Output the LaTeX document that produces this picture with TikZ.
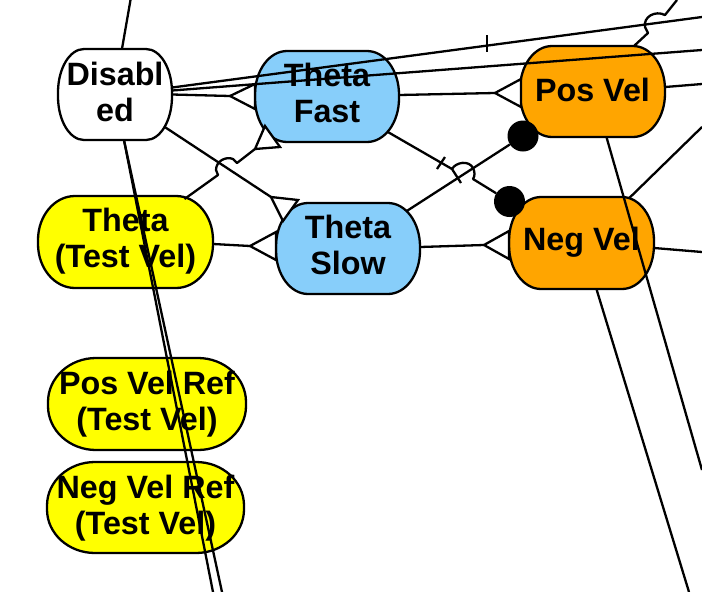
\documentclass[tikz,border=0pt]{standalone}
\usepackage{fontspec}
\setmainfont{Liberation Sans}
\usetikzlibrary{calc}
\definecolor{sblue}{HTML}{87CEFA}
\definecolor{sorange}{HTML}{FFA500}
\definecolor{syellow}{HTML}{FFFF00}
\tikzset{
  stateline/.style={draw=black, line width=2.3pt},
  stateanchor/.style={inner sep=0pt},
  statetext/.style={align=center, inner sep=0pt,
    font=\fontsize{32.3}{36}\selectfont\bfseries},
  wire/.style={black, line width=2.3pt, line join=round},
  forkhead/.style={draw=black, fill=white, line width=2.3pt, line join=miter},
  ballhead/.style={circle, fill=black, minimum size=31pt, inner sep=0pt}
}
%% name, centre x, centre y, width, height, corner x radius, colour, text shift, text
\newcommand{\statebox}[9]{%
  \draw[stateline, fill=#7] ({#2-#4/2+#6},{#3-#5/2}) -- ({#2+#4/2-#6},{#3-#5/2})
    arc[start angle=-90, end angle=0, x radius=#6, y radius={#5/2-2}]
    -- ({#2+#4/2},{#3+2})
    arc[start angle=0, end angle=90, x radius=#6, y radius={#5/2-2}]
    -- ({#2-#4/2+#6},{#3+#5/2})
    arc[start angle=90, end angle=180, x radius=#6, y radius={#5/2-2}]
    -- ({#2-#4/2},{#3-2})
    arc[start angle=180, end angle=270, x radius=#6, y radius={#5/2-2}]
    -- cycle;
  \node[stateanchor, minimum width=#4pt, minimum height=#5pt] (#1) at (#2,#3) {};
  \node[statetext] (#1text) at ({#2},{#3+#8}) {#9};
}
\begin{document}
\begin{tikzpicture}[x=1pt, y=-1pt]
  \useasboundingbox (0,0) rectangle (702,592);

  %% Mode states
  \statebox{disabled}{115}{94.5}{114}{91}{26}{white}{-3}{Disabl\\ed}
  \statebox{thetafast}{327}{96.5}{144}{91}{32}{sblue}{-4}{Theta\\Fast}
  \statebox{thetaslow}{348}{248.5}{144}{91}{32}{sblue}{-3.5}{Theta\\Slow}
  \statebox{posvel}{592.5}{91.5}{145}{91}{32}{sorange}{-2}{Pos Vel}
  \statebox{negvel}{581.5}{243}{145}{92}{32}{sorange}{-1}{Neg Vel}

  %% Test inputs
  \statebox{thetatest}{125.5}{242}{175}{92}{37}{syellow}{-0.5}{Theta\\(Test Vel)}
  \statebox{posref}{147}{404}{198}{92}{48}{syellow}{0.5}{Pos Vel Ref\\(Test Vel)}
  \statebox{negref}{145.5}{507.5}{197}{91}{48}{syellow}{1}{Neg Vel Ref\\(Test Vel)}

  %% Fork apexes and heads
  \coordinate (forkfast) at (230,96);
  \coordinate (forkfasttest) at (255,149);
  \coordinate (forkslow) at (250,246);
  \coordinate (forkslowdis) at (271,197);
  \coordinate (forkpos) at (495,93);
  \coordinate (forkneg) at (484,245);
  \node[ballhead] (ballpos) at (523,136) {};
  \node[ballhead] (ballneg) at (509.5,201.5) {};

  %% Free ends at the picture border
  \coordinate (endtop) at (130.5,0);
  \coordinate (endupper) at (702,17);
  \coordinate (endmid) at (702,50);
  \coordinate (enddisa) at (213,592);
  \coordinate (enddisb) at (222,592);
  \coordinate (endhop) at (677,0);
  \coordinate (endposr) at (702,84);
  \coordinate (endposd) at (702,470);
  \coordinate (endnegr) at (702,252);
  \coordinate (endnegu) at (702,127);
  \coordinate (endnegd) at (689,592);

  %% Connectors from Disabled
  \draw[wire] ([xshift=7pt]disabled.north) -- (endtop);
  \draw[wire] ([yshift=7pt]disabled.east) -- (endupper);
  \draw[wire] ([yshift=4pt]disabled.east) -- (endmid);
  \draw[wire] (disabled.east) -- (forkfast);
  \draw[wire] ([shift={(49,32)}]disabled.center) -- (forkslowdis);
  \draw[wire] ([xshift=9pt]disabled.south) -- (enddisa);
  \draw[wire] ([xshift=9pt]disabled.south) -- (enddisb);
  \draw[wire] (487,35) -- (487,52);

  %% Connectors from the other states
  \draw[wire] ([shift={(59,-43)}]thetatest.center) -- (218,175)
    -- (216,170) .. controls (216,161) and (226,156) .. (233,159) -- (237,163) -- (forkfasttest);
  \draw[wire] ([yshift=-2pt]thetatest.east) -- (forkslow);
  \draw[wire] ([yshift=1.5pt]thetafast.east) -- (forkpos);
  \draw[wire] ([shift={(60,35)}]thetafast.center) -- (452,169)
    .. controls (456,162) and (469,160) .. (473,168) .. controls (475,172) and (475,176) .. (473,179)
    -- (ballneg);
  \draw[wire] (437,169) -- (445,157);
  \draw[wire] (452,169) -- (461,183);
  \draw[wire] ([shift={(58,-37)}]thetaslow.center) -- (ballpos);
  \draw[wire] ([yshift=1.5pt]thetaslow.east) -- (forkneg);
  \draw[wire] ([yshift=4.5pt]posvel.east) -- (endposr);
  \draw[wire] ([shift={(42,-46)}]posvel.center) -- (648,33) -- (645,27)
    .. controls (643,17) and (655,10) .. (665,15) -- (endhop);
  \draw[wire] ([xshift=14pt]posvel.south) -- (endposd);
  \draw[wire] ([xshift=48pt,yshift=-1pt]negvel.north) -- (endnegu);
  \draw[wire] ([yshift=-5pt]negvel.east) -- (endnegr);
  \draw[wire] ([xshift=15pt]negvel.south) -- (endnegd);

  %% Fork heads
  \draw[forkhead] (forkfast) -- (255,84) -- (255,109) -- cycle;
  \draw[forkhead] (forkfasttest) -- (265,126) -- (280,147) -- cycle;
  \draw[forkhead] (forkslow) -- (276,232) -- (276,260) -- cycle;
  \draw[forkhead] (forkslowdis) -- (298,200) -- (283,221) -- cycle;
  \draw[forkhead] (forkpos) -- (521,79) -- (521,107) -- cycle;
  \draw[forkhead] (forkneg) -- (509,231) -- (509,259) -- cycle;

\end{tikzpicture}
\end{document}
